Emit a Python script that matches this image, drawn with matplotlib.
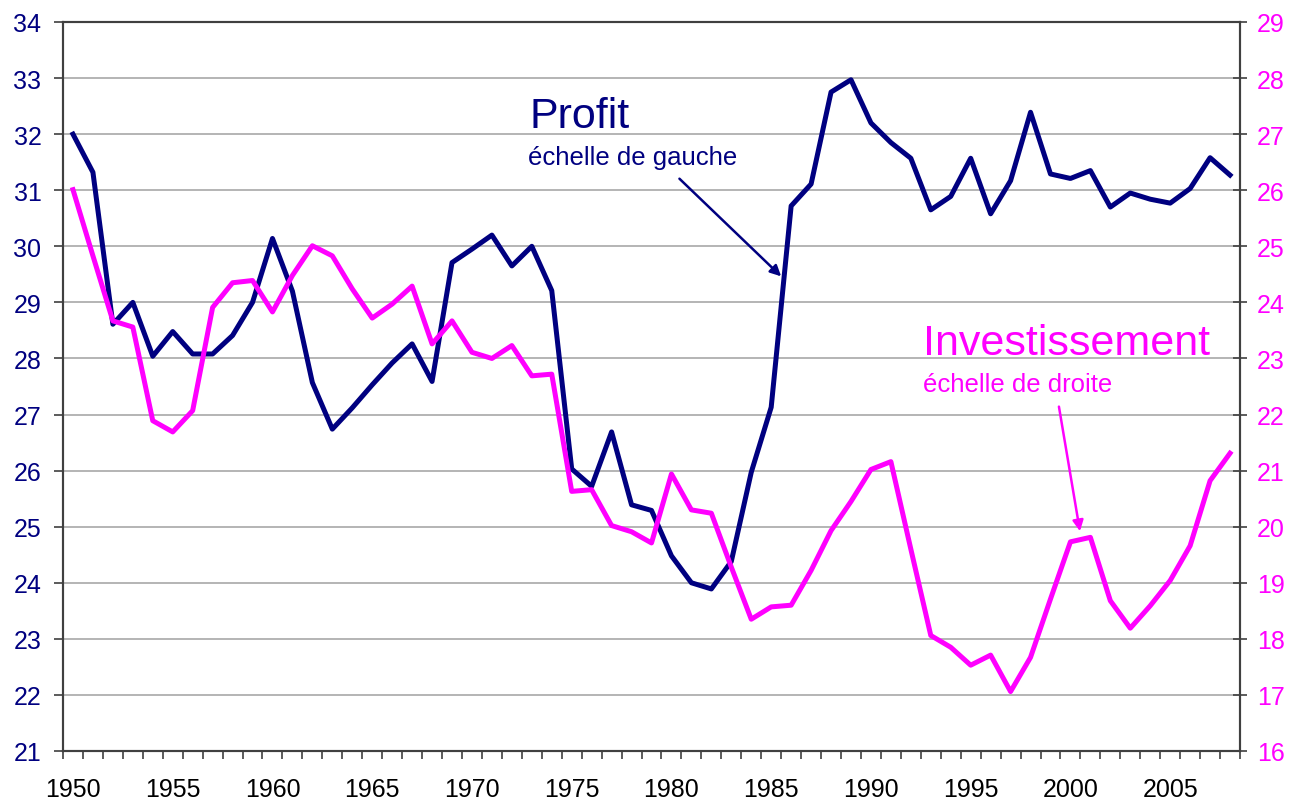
import matplotlib.pyplot as plt
import numpy as np

years = list(range(1950, 2009))

profit = [32.0, 31.32, 28.61, 29.0, 28.04, 28.48, 28.08, 28.08, 28.41, 29.0,
          30.14, 29.2, 27.57, 26.74, 27.12, 27.53, 27.92, 28.26, 27.59, 29.71,
          29.95, 30.2, 29.65, 30.0, 29.21, 26.03, 25.72, 26.69, 25.39, 25.29,
          24.48, 24.0, 23.89, 24.38, 25.97, 27.13, 30.72, 31.11, 32.75, 32.97,
          32.2, 31.85, 31.57, 30.65, 30.89, 31.57, 30.58, 31.17, 32.39, 31.29,
          31.21, 31.35, 30.7, 30.95, 30.84, 30.77, 31.03, 31.58, 31.27]

invest = [26.01, 24.83, 23.67, 23.56, 21.89, 21.69, 22.07, 23.91, 24.35, 24.39,
          23.83, 24.48, 25.01, 24.83, 24.24, 23.72, 23.97, 24.29, 23.26, 23.67,
          23.11, 23.0, 23.23, 22.69, 22.72, 20.63, 20.66, 20.02, 19.91, 19.71,
          20.94, 20.3, 20.24, 19.28, 18.35, 18.57, 18.6, 19.22, 19.93, 20.45,
          21.02, 21.16, 19.6, 18.06, 17.85, 17.53, 17.71, 17.06, 17.67, 18.71,
          19.73, 19.81, 18.68, 18.19, 18.59, 19.04, 19.66, 20.82, 21.31]

navy = '#000080'
pink = '#ff00ff'

plt.rcParams['font.family'] = ['Liberation Sans', 'DejaVu Sans']

fig = plt.figure(figsize=(12.94, 8.04), dpi=100)
ax = fig.add_axes([63/1294, 1-752/804, (1240-63)/1294, (752-23)/804])
ax2 = ax.twinx()

ax.set_ylim(21, 34)
ax2.set_ylim(16, 29)
ax.set_xlim(1949.5, 2008.5)

ax.set_yticks(range(21, 35))
ax2.set_yticks(range(16, 30))
ax.grid(axis='y', color='#a8a8a8', lw=1.2)
ax.set_axisbelow(True)

ax.plot(years, profit, color=navy, lw=3.6, zorder=3)
ax2.plot(years, invest, color=pink, lw=3.6, zorder=3)

ax.set_xticks(range(1950, 2009, 5))
ax.set_xticks(np.arange(1949.5, 2009, 1), minor=True)
ax.tick_params(axis='x', which='major', length=0, pad=19, labelsize=18, labelcolor='black')
ax.tick_params(axis='x', which='minor', length=6, width=1.2, color='#404040')
ax.tick_params(axis='y', length=6.5, width=1.2, color='#404040', pad=9, labelsize=18, labelcolor=navy)
ax2.tick_params(axis='y', direction='inout', length=10, width=1.2, color='#404040', pad=7, labelsize=18, labelcolor=pink)

for a in (ax, ax2):
    for s in a.spines.values():
        s.set_color('#404040')
        s.set_linewidth(1.5)

ax.text(1972.9, 32.13, 'Profit', color=navy, fontsize=31, va='baseline')
ax.text(1972.8, 31.46, 'échelle de gauche', color=navy, fontsize=18.5, va='baseline')
ax.annotate('', xy=(1985.6, 29.43), xytext=(1980.3, 31.24),
            arrowprops=dict(arrowstyle='-|>', color=navy, lw=1.8, mutation_scale=16))

ax2.text(1992.6, 23.08, 'Investissement', color=pink, fontsize=31, va='baseline')
ax2.text(1992.6, 22.42, 'échelle de droite', color=pink, fontsize=18.5, va='baseline')
ax2.annotate('', xy=(2000.5, 19.87), xytext=(1999.4, 22.19),
             arrowprops=dict(arrowstyle='-|>', color=pink, lw=1.8, mutation_scale=16))

plt.savefig('out.png', dpi=100)
